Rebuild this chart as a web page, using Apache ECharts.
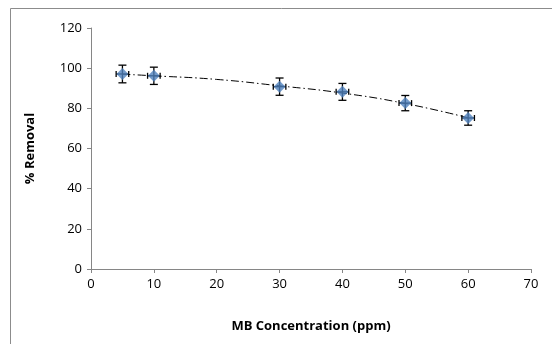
<!DOCTYPE html>
<html><head><meta charset="utf-8">
<script src="https://cdn.jsdelivr.net/npm/echarts@6/dist/echarts.min.js"></script>
<style>html,body{margin:0;padding:0;background:#fff}#c{width:552px;height:344px}</style>
</head><body><div id="c"></div>
<script>
var concentration = [5, 10, 30, 40, 50, 60];
var removal = [97.1, 96.2, 90.8, 88.2, 82.6, 75.2];
var yError = [4.4, 4.3, 4.3, 4.2, 3.8, 3.6];
var xError = [1, 1, 1, 1, 1, 1];
var trendX = [5, 10, 20, 30, 40, 50, 60];
var trendY = [97.0, 96.2, 94.4, 91.2, 87.6, 82.4, 75.3];
var xTicks = [0, 10, 20, 30, 40, 50, 60, 70];
var yTicks = [0, 20, 40, 60, 80, 100, 120];

var pts = concentration.map(function (c, i) { return [c, removal[i]]; });
var trendPts = trendX.map(function (c, i) { return [c, trendY[i]]; });
var errData = concentration.map(function (c, i) { return [c, removal[i], yError[i], xError[i]]; });

var font = "'Open Sans', 'Noto Sans', sans-serif";
var chart = echarts.init(document.getElementById('c'), null, { renderer: 'canvas' });
chart.setOption({
  animation: false,
  backgroundColor: '#fff',
  graphic: [{
    type: 'rect', shape: { x: 10.5, y: 8.5, width: 600, height: 400 },
    style: { fill: 'none', stroke: '#8c8c8c', lineWidth: 1 }, z: -1
  }],
  grid: { left: 91, right: 21, top: 28, bottom: 75 },
  xAxis: {
    type: 'value', min: xTicks[0], max: xTicks[xTicks.length - 1], interval: 10,
    name: 'MB Concentration (ppm)', nameLocation: 'middle', nameGap: 51,
    nameTextStyle: { fontFamily: font, fontWeight: 'bold', fontSize: 13, color: '#000' },
    axisLine: { lineStyle: { color: '#868686' } },
    axisTick: { show: true, length: 4, lineStyle: { color: '#868686' } },
    axisLabel: { fontFamily: font, fontSize: 13, color: '#000', margin: 9 },
    splitLine: { show: false }
  },
  yAxis: {
    type: 'value', min: yTicks[0], max: yTicks[yTicks.length - 1], interval: 20,
    name: '% Removal', nameLocation: 'middle', nameGap: 54,
    nameTextStyle: { fontFamily: font, fontWeight: 'bold', fontSize: 13, color: '#000' },
    axisLine: { show: true, lineStyle: { color: '#868686' } },
    axisTick: { show: true, length: 4, lineStyle: { color: '#868686' } },
    axisLabel: { fontFamily: font, fontSize: 13, color: '#000', margin: 9 },
    splitLine: { show: false }
  },
  series: [
    {
      type: 'line', data: trendPts, smooth: true, symbol: 'none', z: 2,
      lineStyle: { color: '#000', width: 1, type: [8, 3, 1.5, 3] }
    },
    {
      type: 'custom', z: 3,
      renderItem: function (params, api) {
        var x = api.value(0), y = api.value(1), ey = api.value(2), ex = api.value(3);
        var top = api.coord([x, y + ey]), bot = api.coord([x, y - ey]);
        var lft = api.coord([x - ex, y]), rgt = api.coord([x + ex, y]);
        var cw = 4, ch = 3;
        var st = { stroke: '#000', lineWidth: 1.3 };
        return {
          type: 'group', children: [
            { type: 'line', shape: { x1: top[0], y1: top[1], x2: bot[0], y2: bot[1] }, style: st },
            { type: 'line', shape: { x1: top[0] - cw, y1: top[1], x2: top[0] + cw, y2: top[1] }, style: st },
            { type: 'line', shape: { x1: bot[0] - cw, y1: bot[1], x2: bot[0] + cw, y2: bot[1] }, style: st },
            { type: 'line', shape: { x1: lft[0], y1: lft[1], x2: rgt[0], y2: rgt[1] }, style: st },
            { type: 'line', shape: { x1: lft[0], y1: lft[1] - ch, x2: lft[0], y2: lft[1] + ch }, style: st },
            { type: 'line', shape: { x1: rgt[0], y1: rgt[1] - ch, x2: rgt[0], y2: rgt[1] + ch }, style: st }
          ]
        };
      },
      data: errData
    },
    {
      type: 'scatter', data: pts, symbol: 'diamond', symbolSize: 12, z: 4,
      itemStyle: { color: '#4F81BD' }
    }
  ]
});
</script></body></html>
